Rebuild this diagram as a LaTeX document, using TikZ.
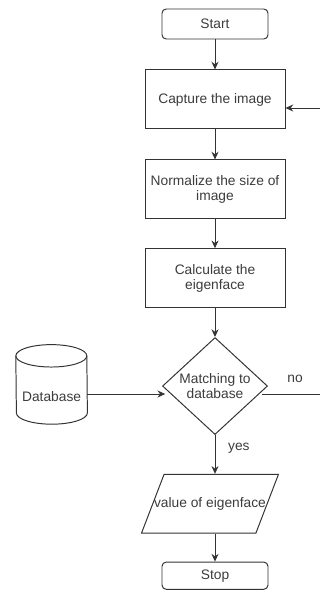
\documentclass[tikz,border=0pt]{standalone}
\usepackage{fontspec}
\setmainfont{Liberation Sans}
\usetikzlibrary{arrows.meta,calc,positioning,shapes.geometric}
\definecolor{Ink}{HTML}{333333}
\definecolor{Lettering}{HTML}{3C3C3C}

\begin{document}
\begin{tikzpicture}[>={Stealth[length=5.5pt,width=5pt]},
    font=\fontsize{9.8}{10.7}\selectfont,text=Lettering,
    terminal/.style={draw=Ink,line width=0.7pt,rounded corners=3pt,
      minimum width=2.65cm,minimum height=0.75cm,inner sep=0pt},
    process/.style={draw=Ink,line width=0.7pt,align=center,
      minimum width=3.5cm,minimum height=1.475cm,inner sep=0pt},
    decision/.style={diamond,draw=Ink,line width=0.7pt,align=center,
      minimum width=2.625cm,minimum height=2.425cm,inner sep=0pt},
    inout/.style={trapezium,trapezium left angle=69,trapezium right angle=111,
      draw=Ink,line width=0.7pt,text height=7pt,text depth=2pt,
      inner xsep=-0.25cm,inner ysep=16.4pt},
    store/.style={minimum width=1.775cm,minimum height=1.975cm,
      inner sep=0pt,text height=0.87cm,text depth=0pt},
    flow/.style={->,draw=Ink,line width=0.7pt},
    plain/.style={draw=Ink,line width=0.7pt}]
  \useasboundingbox (0,0) rectangle (8,-14.775);

  % main column
  \node[terminal] (start) at (5.375,-0.6) {Start};
  \node[process,below=0.75cm of start] (capture) {Capture the image};
  \node[process,below=0.75cm of capture] (normalize) {Normalize the size of\\image};
  \node[process,below=0.72cm of normalize] (eigen) {Calculate the\\eigenface};
  \node[decision,below=0.72cm of eigen] (match) {Matching to\\database};
  \node[inout,below=0.97cm of match,xshift=-0.125cm] (value) {value of eigenface};
  \node[terminal,minimum height=0.68cm,below=0.7cm of value,xshift=0.125cm] (stop) {Stop};

  % side store, drawn as a drum
  \node[store] (db) at (1.29,-9.61) {Database};
  \draw[plain] ([yshift=-0.28cm]db.north west)
      arc[start angle=180,end angle=0,x radius=0.8875cm,y radius=0.28cm]
      -- ([yshift=0.28cm]db.south east)
      arc[start angle=0,end angle=-180,x radius=0.8875cm,y radius=0.28cm]
      -- cycle;
  \draw[plain] ([yshift=-0.28cm]db.north west)
      arc[start angle=180,end angle=360,x radius=0.8875cm,y radius=0.28cm];

  % loop ends at the right border
  \coordinate (backin) at (8,-2.7);
  \coordinate (noout) at (8,-9.85);

  \draw[flow] (start) -- (capture);
  \draw[flow] (capture) -- (normalize);
  \draw[flow] (normalize) -- (eigen);
  \draw[flow] (eigen) -- (match);
  \draw[flow] (match.south) -- (match.south |- value.north)
    node[pos=0.35,right=0.2cm] {yes};
  \draw[flow] (value.south -| stop) -- (stop);
  \draw[flow] (db.east |- noout) -- ($(noout -| match.west)+(0.08,0)$);
  \draw[plain] ($(noout -| match.east)+(-0.15,0)$) -- (noout)
    node[pos=0.57,above=0.15cm] {no};
  \draw[flow] (backin) -- (backin -| capture.east);
\end{tikzpicture}
\end{document}
